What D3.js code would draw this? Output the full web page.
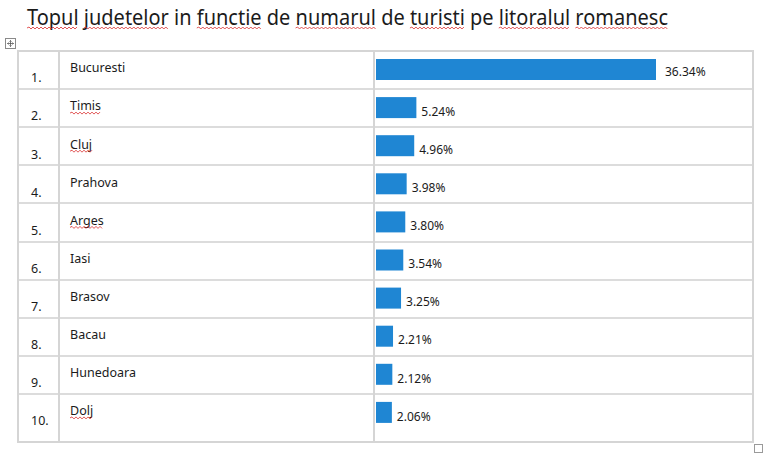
<!DOCTYPE html>
<html>
<head>
  <meta charset="utf-8">
  <script src="https://d3js.org/d3.v7.min.js"></script>
  <style>
    body { margin: 0; background: #fff; }
    text { font-family: "Noto Sans", "Open Sans", sans-serif; fill: #1b1b1b; }
  </style>
</head>
<body>
  <div id="chart"></div>
  <script>
    // data
    var title = "Topul judetelor in functie de numarul de turisti pe litoralul romanesc";
    var ranks = ["1.", "2.", "3.", "4.", "5.", "6.", "7.", "8.", "9.", "10."];
    var counties = ["Bucuresti", "Timis", "Cluj", "Prahova", "Arges", "Iasi", "Brasov", "Bacau", "Hunedoara", "Dolj"];
    var shares = [36.34, 5.24, 4.96, 3.98, 3.80, 3.54, 3.25, 2.21, 2.12, 2.06];
    var shareLabels = ["36.34%", "5.24%", "4.96%", "3.98%", "3.80%", "3.54%", "3.25%", "2.21%", "2.12%", "2.06%"];
    // words the spell checker flags
    var flagged = ["Topul", "judetelor", "functie", "numarul", "turisti", "litoralul", "romanesc", "Timis", "Cluj", "Arges", "Dolj"];

    var W = 769, H = 463;
    var tbl = { left: 18, right: 753, top: 51, bottom: 442, col1: 59, col2: 374 };
    var lineColor = "#d5d5d5", barColor = "#1f86d3";

    var svg = d3.select("#chart").append("svg")
      .attr("width", W).attr("height", H);

    // wavy red underline
    function squiggle(x0, x1, y) {
      var p = "M" + x0 + "," + y, up = true;
      for (var xx = x0 + 2; xx <= x1; xx += 2) {
        p += "L" + xx + "," + (y + (up ? -1 : 1));
        up = !up;
      }
      svg.append("path").attr("d", p)
        .style("fill", "none").style("stroke", "#d92b2b").style("stroke-width", 0.8);
    }

    function underlineWords(node, str, baseY, scale, offX) {
      str.split(" ").reduce(function(pos, w) {
        if (flagged.indexOf(w) >= 0) {
          var a = pos === 0 ? 0 : node.getSubStringLength(0, pos);
          var b = node.getSubStringLength(0, pos + w.length);
          squiggle(offX + a * scale, offX + b * scale, baseY);
        }
        return pos + w.length + 1;
      }, 0);
    }

    // title
    var tNode = svg.append("text")
      .attr("x", 27).attr("y", 25)
      .style("font-size", "22px")
      .text(title).node();
    var natural = tNode.getComputedTextLength();
    var targetW = 641;
    underlineWords(tNode, title, 28, targetW / natural, 27);
    d3.select(tNode).attr("textLength", targetW).attr("lengthAdjust", "spacingAndGlyphs");

    // small table handle icon
    var ic = svg.append("g").attr("transform", "translate(5,38)");
    ic.append("rect").attr("x", 0.5).attr("y", 0.5).attr("width", 10).attr("height", 10)
      .style("fill", "#fff").style("stroke", "#8a8a8a");
    ic.append("path")
      .attr("d", "M5.5,2.5V8.5M2.5,5.5H8.5M4.5,3.5L5.5,2.5L6.5,3.5M4.5,7.5L5.5,8.5L6.5,7.5M3.5,4.5L2.5,5.5L3.5,6.5M7.5,4.5L8.5,5.5L7.5,6.5")
      .style("fill", "none").style("stroke", "#555").style("stroke-width", 0.8);

    // scales
    var y = d3.scaleBand().domain(counties).range([tbl.top, tbl.bottom - 10]);
    var x = d3.scaleLinear().domain([0, d3.max(shares)]).range([0, 280]);
    var barX = tbl.col2 + 2;

    // row lines
    svg.selectAll(".hline")
      .data(counties.slice(1))
      .enter().append("line")
      .attr("x1", tbl.left).attr("x2", tbl.right)
      .attr("y1", function(d) { return Math.round(y(d)); })
      .attr("y2", function(d) { return Math.round(y(d)); })
      .style("stroke", "#dcdcdc").style("stroke-width", 2);

    // outer frame and column lines
    svg.append("rect")
      .attr("x", tbl.left).attr("y", tbl.top)
      .attr("width", tbl.right - tbl.left).attr("height", tbl.bottom - tbl.top)
      .style("fill", "none").style("stroke", lineColor).style("stroke-width", 2);
    [tbl.col1, tbl.col2].forEach(function(cx) {
      svg.append("line")
        .attr("x1", cx).attr("x2", cx).attr("y1", tbl.top).attr("y2", tbl.bottom)
        .style("stroke", lineColor).style("stroke-width", 2);
    });

    // resize handle
    svg.append("rect").attr("x", 754.5).attr("y", 444.5).attr("width", 8).attr("height", 8)
      .style("fill", "#fff").style("stroke", "#9a9a9a");

    // rank numbers
    svg.selectAll(".rank")
      .data(counties)
      .enter().append("text")
      .attr("x", 31)
      .attr("y", function(d) { return y(d) + 27; })
      .attr("dy", "0.35em")
      .style("font-size", "12.5px")
      .text(function(d, i) { return ranks[i]; });

    // county names
    svg.selectAll(".name")
      .data(counties)
      .enter().append("text")
      .attr("x", 70)
      .attr("y", function(d) { return y(d) + 17; })
      .attr("dy", "0.35em")
      .style("font-size", "12.5px")
      .text(function(d) { return d; })
      .each(function(d) {
        underlineWords(this, d, y(d) + 24, 1, 70);
      });

    // bars
    svg.selectAll(".bar")
      .data(shares)
      .enter().append("rect")
      .attr("x", barX)
      .attr("y", function(d, i) { return y(counties[i]) + 8; })
      .attr("width", function(d) { return x(d); })
      .attr("height", 21)
      .style("fill", barColor);

    // value labels
    svg.selectAll(".val")
      .data(shares)
      .enter().append("text")
      .attr("x", function(d, i) { return barX + x(d) + (i === 0 ? 9 : 5); })
      .attr("y", function(d, i) { return y(counties[i]) + 8 + 10.5 + (i === 0 ? 2 : 4); })
      .attr("dy", "0.35em")
      .style("font-size", "12px")
      .text(function(d, i) { return shareLabels[i]; });
  </script>
</body>
</html>
